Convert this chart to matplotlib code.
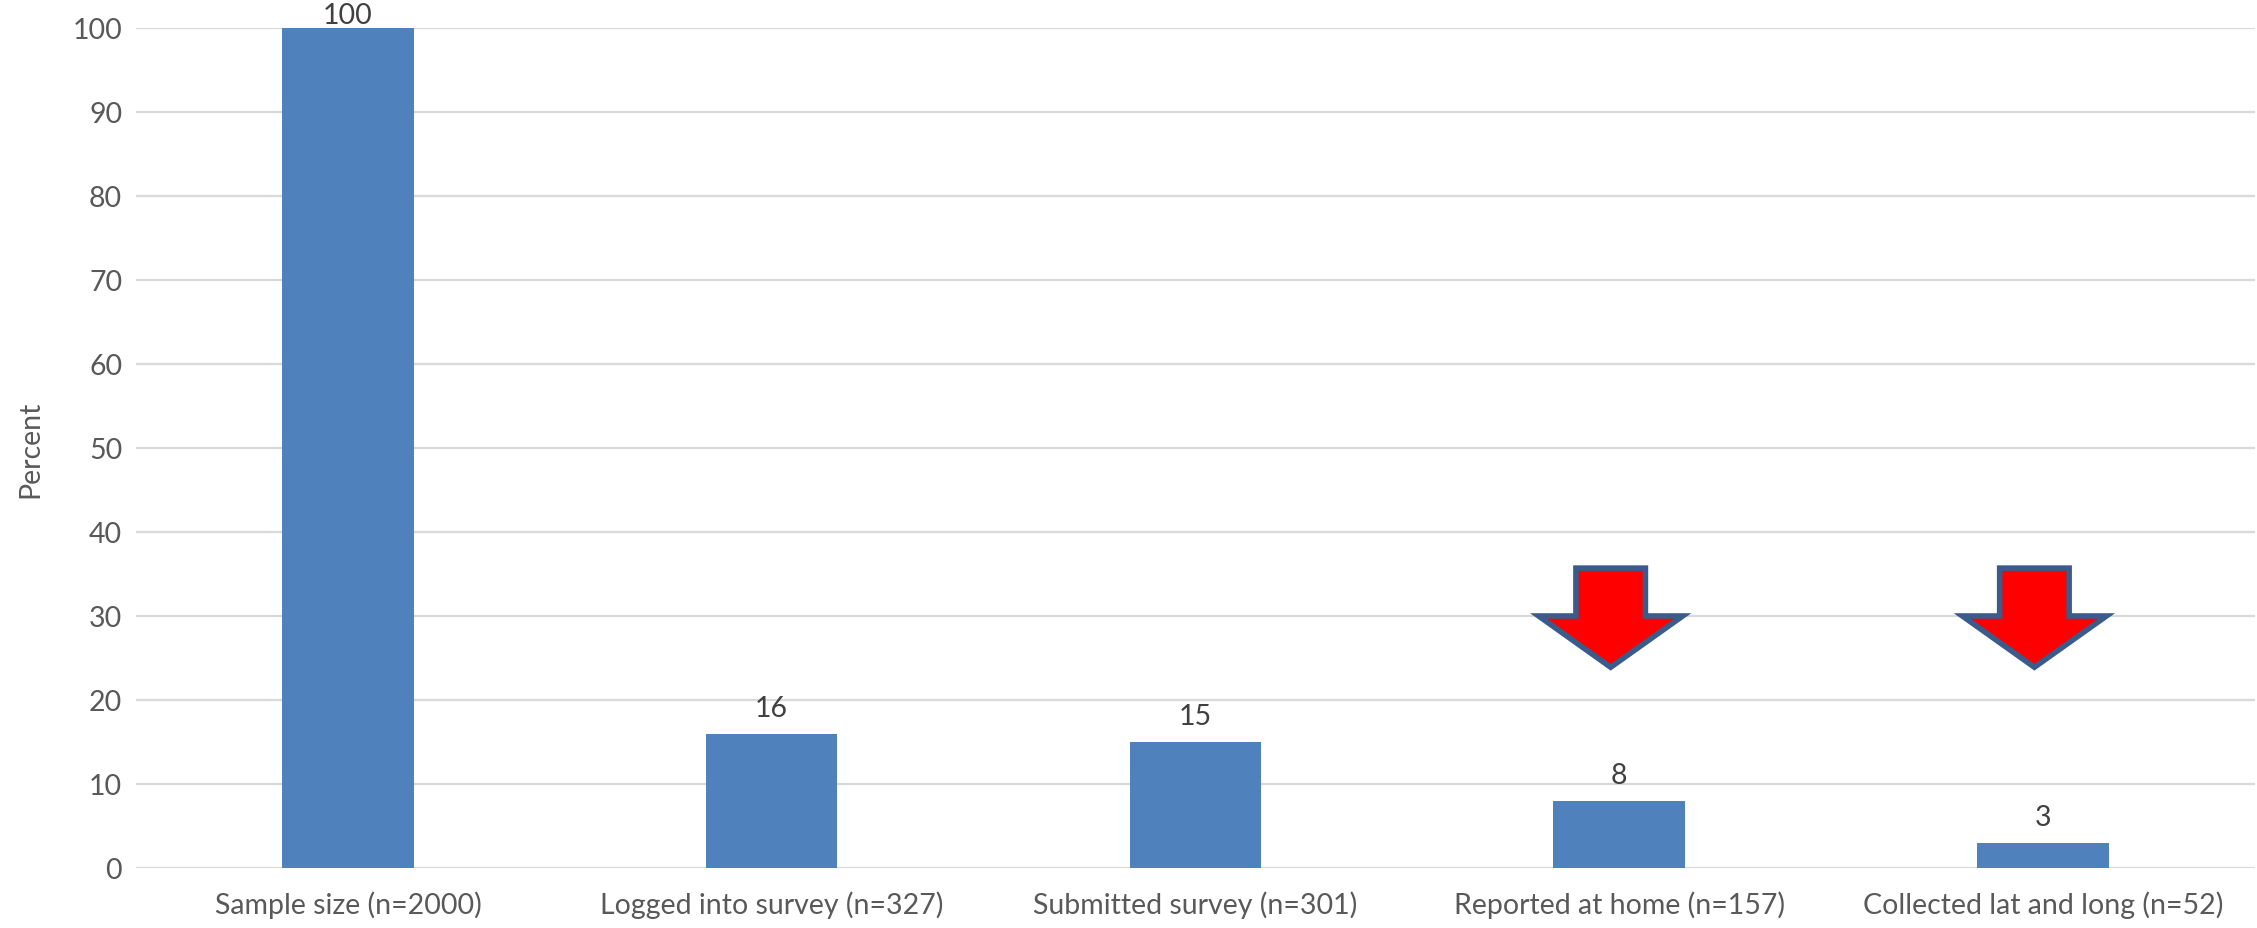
import numpy as np
import matplotlib
matplotlib.use('Agg')
import matplotlib.pyplot as plt
from matplotlib.patches import Polygon

categories = ['Sample size (n=2000)', 'Logged into survey (n=327)', 'Submitted survey (n=301)',
              'Reported at home (n=157)', 'Collected lat and long (n=52)']
percent = [100, 16, 15, 8, 3]
flagged = [3, 4]  # steps marked with a red arrow

plt.rcParams['font.family'] = ['Lato', 'DejaVu Sans']


def down_arrow(ax, xc):
    # block arrow in data units: shaft 35.7 -> 30, head 30 -> 23.9
    sw, hw = 0.082, 0.17
    pts = [(xc - sw, 35.7), (xc + sw, 35.7), (xc + sw, 30.0), (xc + hw, 30.0),
           (xc, 23.9), (xc - hw, 30.0), (xc - sw, 30.0)]
    ax.add_patch(Polygon(pts, closed=True, facecolor='#FF0000', edgecolor='#3B5B8A',
                         linewidth=4, joinstyle='miter', zorder=5))


fig = plt.figure(figsize=(22.57, 9.29), dpi=100)
ax = fig.add_axes([0.0603, 0.0646, 0.9387, 0.9042])

x = np.arange(len(categories))
ax.bar(x, percent, width=0.31, color='#4F81BD', zorder=3)

for i, v in enumerate(percent):
    off = 9 if v < 100 else 0
    ax.annotate(str(v), (i, v), xytext=(0, off), textcoords='offset points',
                ha='center', va='bottom', fontsize=20.5, color='#404040', zorder=4)

for i in flagged:
    down_arrow(ax, i - 0.02)

ax.set_xlim(-0.5, len(categories) - 0.5)
ax.set_ylim(0, 100)
ax.set_yticks(range(0, 101, 10))
ax.set_xticks(x)
ax.set_xticklabels(categories)
ax.tick_params(axis='both', length=0, labelsize=20.5, colors='#595959')
ax.tick_params(axis='x', pad=16)
ax.tick_params(axis='y', pad=10)
ax.grid(axis='y', color='#D9D9D9', linewidth=1.6, zorder=0)
for s in ax.spines.values():
    s.set_visible(False)
ax.set_ylabel('Percent', fontsize=20.5, color='#595959', labelpad=21)

fig.savefig('out.png', dpi=100)
